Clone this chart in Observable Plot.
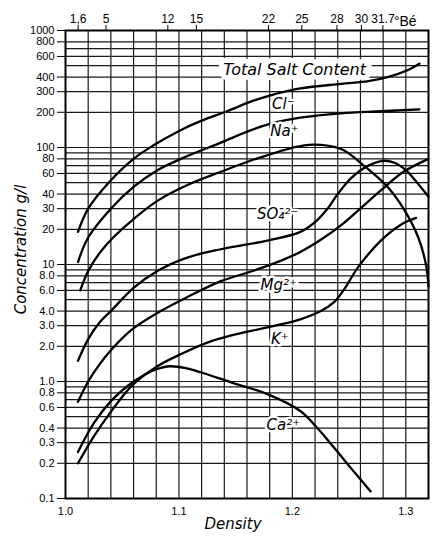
<!DOCTYPE html>
<html><head><meta charset="utf-8">
<script src="https://cdn.jsdelivr.net/npm/d3@7"></script>
<script src="https://cdn.jsdelivr.net/npm/@observablehq/plot@0.6"></script>
<style>body{margin:0;background:#fff;} #chart svg{display:block;}</style>
</head><body><div id="chart"></div>
<script>
// ---- data (density, concentration g/l) ----
const totalSalt = [[1.011,19],[1.020,30],[1.038,50],[1.060,80],[1.078,105],[1.101,140],[1.119,168],[1.143,205],[1.165,250],[1.184,285],[1.207,320],[1.243,350],[1.267,370],[1.284,400],[1.302,460],[1.312,520]];
const chloride = [[1.011,10.5],[1.020,17],[1.040,30],[1.060,46],[1.081,64],[1.108,85],[1.137,110],[1.163,140],[1.184,163],[1.207,180],[1.243,196],[1.278,204],[1.312,212]];
const sodium = [[1.013,6],[1.020,8.8],[1.030,12.5],[1.042,17],[1.059,24],[1.081,35],[1.108,48],[1.137,62],[1.163,77],[1.199,99],[1.218,106],[1.243,97],[1.263,70],[1.284,46],[1.298,30],[1.311,17],[1.318,9.7],[1.320,6.5]];
const sulfate = [[1.011,1.5],[1.020,2.3],[1.030,3.2],[1.040,4.0],[1.060,6.3],[1.081,8.8],[1.108,11.5],[1.137,13.5],[1.178,16],[1.207,19],[1.222,24],[1.231,30],[1.240,40],[1.252,55],[1.267,70],[1.280,77],[1.290,74],[1.300,64],[1.310,50],[1.320,38]];
const magnesium = [[1.011,0.67],[1.020,1.0],[1.030,1.4],[1.040,1.85],[1.059,2.8],[1.084,4.0],[1.108,5.3],[1.137,7.2],[1.165,8.8],[1.190,10.8],[1.207,12.8],[1.228,17],[1.245,22.5],[1.258,29],[1.278,43],[1.298,62],[1.320,80]];
const potassium = [[1.011,0.2],[1.025,0.34],[1.040,0.55],[1.059,0.93],[1.081,1.35],[1.101,1.7],[1.128,2.2],[1.148,2.5],[1.178,2.9],[1.207,3.4],[1.225,4.0],[1.237,4.8],[1.245,6.0],[1.258,9.5],[1.278,16],[1.296,22],[1.309,25]];
const calcium = [[1.011,0.25],[1.025,0.44],[1.040,0.68],[1.055,0.92],[1.070,1.15],[1.081,1.28],[1.092,1.35],[1.106,1.3],[1.119,1.2],[1.148,0.97],[1.178,0.78],[1.207,0.56],[1.222,0.4],[1.237,0.27],[1.252,0.18],[1.269,0.115]];

const seriesLabels = ["Total Salt Content","Cl\u207B","Na\u207A","SO\u2084\u00B2\u207B","Mg\u00B2\u207A","K\u207A","Ca\u00B2\u207A"];
const labelDensity = [1.202,1.192,1.193,1.187,1.188,1.189,1.192];
const labelValue = [460,235,137,26.7,6.6,2.3,0.42];

// ---- axes ----
const yTicks = [1000,800,600,400,300,200,100,80,60,40,30,20,10,8,6,4,3,2,1,0.8,0.6,0.4,0.3,0.2,0.1];
const yTickLabels = ["1000","800","600","400","300","200","100","80","60","40","30","20","10","8.0","6.0","4.0","3.0","2.0","1.0","0.8","0.6","0.4","0.3","0.2","0.1"];
const gridY = [800,700,600,500,400,300,200,100,90,80,70,60,50,40,30,20,10,9,8,7,6,5,4,3,2,1,0.9,0.8,0.7,0.6,0.5,0.4,0.3,0.2];
const gridX = [1.02,1.04,1.06,1.08,1.10,1.12,1.14,1.16,1.18,1.20,1.22,1.24,1.26,1.28,1.30];
const xTicks = [1.0,1.1,1.2,1.3];
const xTickLabels = ["1.0","1.1","1.2","1.3"];
const baumeTicks = [1.6,5,12,15,22,25,28,30,31.7];
const baumeLabels = ["1,6","5","12","15","22","25","28","30","31.7"];

const toRows = a => a.map(([d,v]) => ({d, v}));
const baumeDensity = baumeTicks.map(b => 145/(145-b));
const yLab = new Map(yTicks.map((t,i)=>[t,yTickLabels[i]]));
const xLab = new Map(xTicks.map((t,i)=>[t,xTickLabels[i]]));
const bLab = new Map(baumeDensity.map((t,i)=>[t,baumeLabels[i]]));
const labels = seriesLabels.map((s,i)=>({s, d: labelDensity[i], v: labelValue[i], big: i === 0}));

const lineOpts = {x:"d", y:"v", curve:"catmull-rom", stroke:"black", strokeWidth:2.3};
const font = "'Liberation Sans', 'DejaVu Sans', sans-serif";
const italicFont = "'DejaVu Sans', sans-serif";

const chart = Plot.plot({
  width: 433, height: 538,
  marginTop: 30, marginBottom: 40, marginLeft: 65, marginRight: 5,
  style: {fontFamily: font, fontSize: "11px", background: "white", color: "black"},
  x: {domain: [1.0, 1.32]},
  y: {type: "log", domain: [0.1, 1000]},
  marks: [
    Plot.ruleY(gridY, {stroke: "#1a1a1a", strokeWidth: 1.2}),
    Plot.ruleX(gridX, {stroke: "#1a1a1a", strokeWidth: 1.2}),
    Plot.frame({stroke: "black", strokeWidth: 2}),
    Plot.axisY({ticks: yTicks, tickFormat: () => "", tickSize: 8, label: null}),
    Plot.text(yTicks, {y: d => d, text: d => yLab.get(d), frameAnchor: "left", textAnchor: "end", dx: -11, fontSize: 11}),
    Plot.axisX({ticks: xTicks, tickFormat: d => xLab.get(d), tickSize: 0, tickPadding: 9, label: null, fontSize: 11}),
    Plot.axisX({anchor: "top", ticks: baumeDensity, tickFormat: d => bLab.get(d), tickSize: 6, tickPadding: 2, label: null, fontSize: 12}),
    Plot.text([baumeDensity[baumeDensity.length - 1]], {x: d => d, text: () => "\u00B0B\u00E9", frameAnchor: "top", textAnchor: "start", dx: 11, dy: -14, fontSize: 14}),
    Plot.line(toRows(totalSalt), lineOpts),
    Plot.line(toRows(chloride), lineOpts),
    Plot.line(toRows(sodium), lineOpts),
    Plot.line(toRows(sulfate), lineOpts),
    Plot.line(toRows(magnesium), lineOpts),
    Plot.line(toRows(potassium), lineOpts),
    Plot.line(toRows(calcium), lineOpts),
    Plot.text(labels.filter(l => l.big), {x:"d", y:"v", text:"s", fontFamily: italicFont, fontStyle:"italic", fontSize: 16, fill:"black", stroke:"white", strokeWidth: 10, paintOrder:"stroke"}),
    Plot.text(labels.filter(l => !l.big), {x:"d", y:"v", text:"s", fontFamily: italicFont, fontStyle:"italic", fontSize: 15, fill:"black", stroke:"white", strokeWidth: 5, paintOrder:"stroke"}),
    Plot.text(["Concentration g/l"], {frameAnchor: "left", textAnchor: "middle", rotate: -90, dx: -44, dy: -15, fontFamily: italicFont, fontStyle: "italic", fontSize: 15}),
    Plot.text(["Density"], {frameAnchor: "bottom", textAnchor: "middle", dy: 30, dx: -14, fontFamily: italicFont, fontStyle: "italic", fontSize: 15})
  ]
});
document.getElementById("chart").appendChild(chart);
</script></body></html>
